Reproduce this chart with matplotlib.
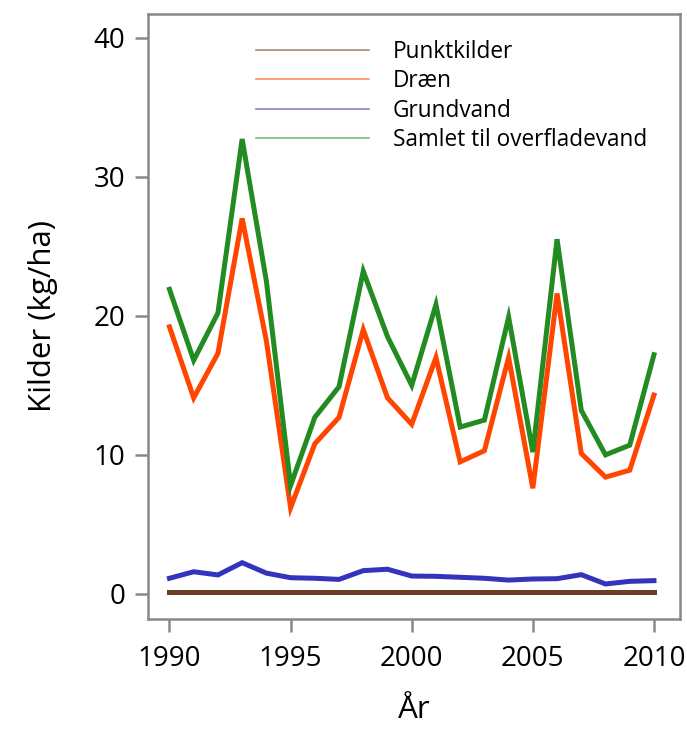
import numpy as np
import matplotlib
matplotlib.use("Agg")
import matplotlib.pyplot as plt

plt.rcParams["font.family"] = ["Open Sans", "DejaVu Sans"]

years = list(range(1990, 2011))
punktkilder = [0.15] * 21
draen = [19.2, 14.1, 17.3, 27.0, 18.2, 6.2, 10.8, 12.7, 19.0, 14.1, 12.2,
         17.0, 9.5, 10.3, 17.0, 7.6, 21.6, 10.1, 8.4, 8.9, 14.3]
grundvand = [1.13, 1.6, 1.37, 2.25, 1.5, 1.17, 1.13, 1.05, 1.68, 1.78, 1.29,
             1.27, 1.2, 1.13, 1.0, 1.08, 1.1, 1.39, 0.72, 0.91, 0.96]
samlet = [21.9, 16.8, 20.2, 32.7, 22.5, 7.8, 12.7, 14.9, 23.2, 18.5, 15.0,
          20.8, 12.0, 12.5, 19.9, 10.2, 25.5, 13.2, 10.0, 10.7, 17.2]

series = [
    ("Punktkilder", punktkilder, "#6b3e26"),
    ("Dræn", draen, "#ff4500"),
    ("Grundvand", grundvand, "#3333bb"),
    ("Samlet til overfladevand", samlet, "#228b22"),
]

fig = plt.figure(figsize=(6.87, 7.30), dpi=100)
ax = fig.add_axes([0.216, 0.152, 0.774, 0.829])

for name, vals, col in series:
    ax.plot(years, vals, color=col, lw=3.6, solid_joinstyle="miter")

# legend uses thin, lighter lines
handles = [plt.Line2D([], [], color=col, lw=1.2, alpha=0.6) for _, _, col in series]
ax.legend(handles, [s[0] for s in series], loc="upper left",
          bbox_to_anchor=(0.185, 0.972), frameon=False, fontsize=16.3,
          handlelength=5.0, handletextpad=1.05, labelspacing=0.24,
          borderaxespad=0.0)

ax.set_xlim(1989.13, 2011.08)
ax.set_ylim(-1.8, 41.7)
ax.set_xticks([1990, 1995, 2000, 2005, 2010])
ax.set_yticks([0, 10, 20, 30, 40])

for sp in ax.spines.values():
    sp.set_color("#888888")
    sp.set_linewidth(1.8)
ax.tick_params(colors="#888888", labelcolor="black", labelsize=20,
               length=9.5, width=1.8, direction="out")
ax.tick_params(axis="x", pad=9)
ax.tick_params(axis="y", pad=7)

ax.set_xlabel("År", fontsize=22.5, labelpad=16)
ax.set_ylabel("Kilder (kg/ha)", fontsize=22.5, labelpad=26)

fig.savefig("out.png", dpi=100)
